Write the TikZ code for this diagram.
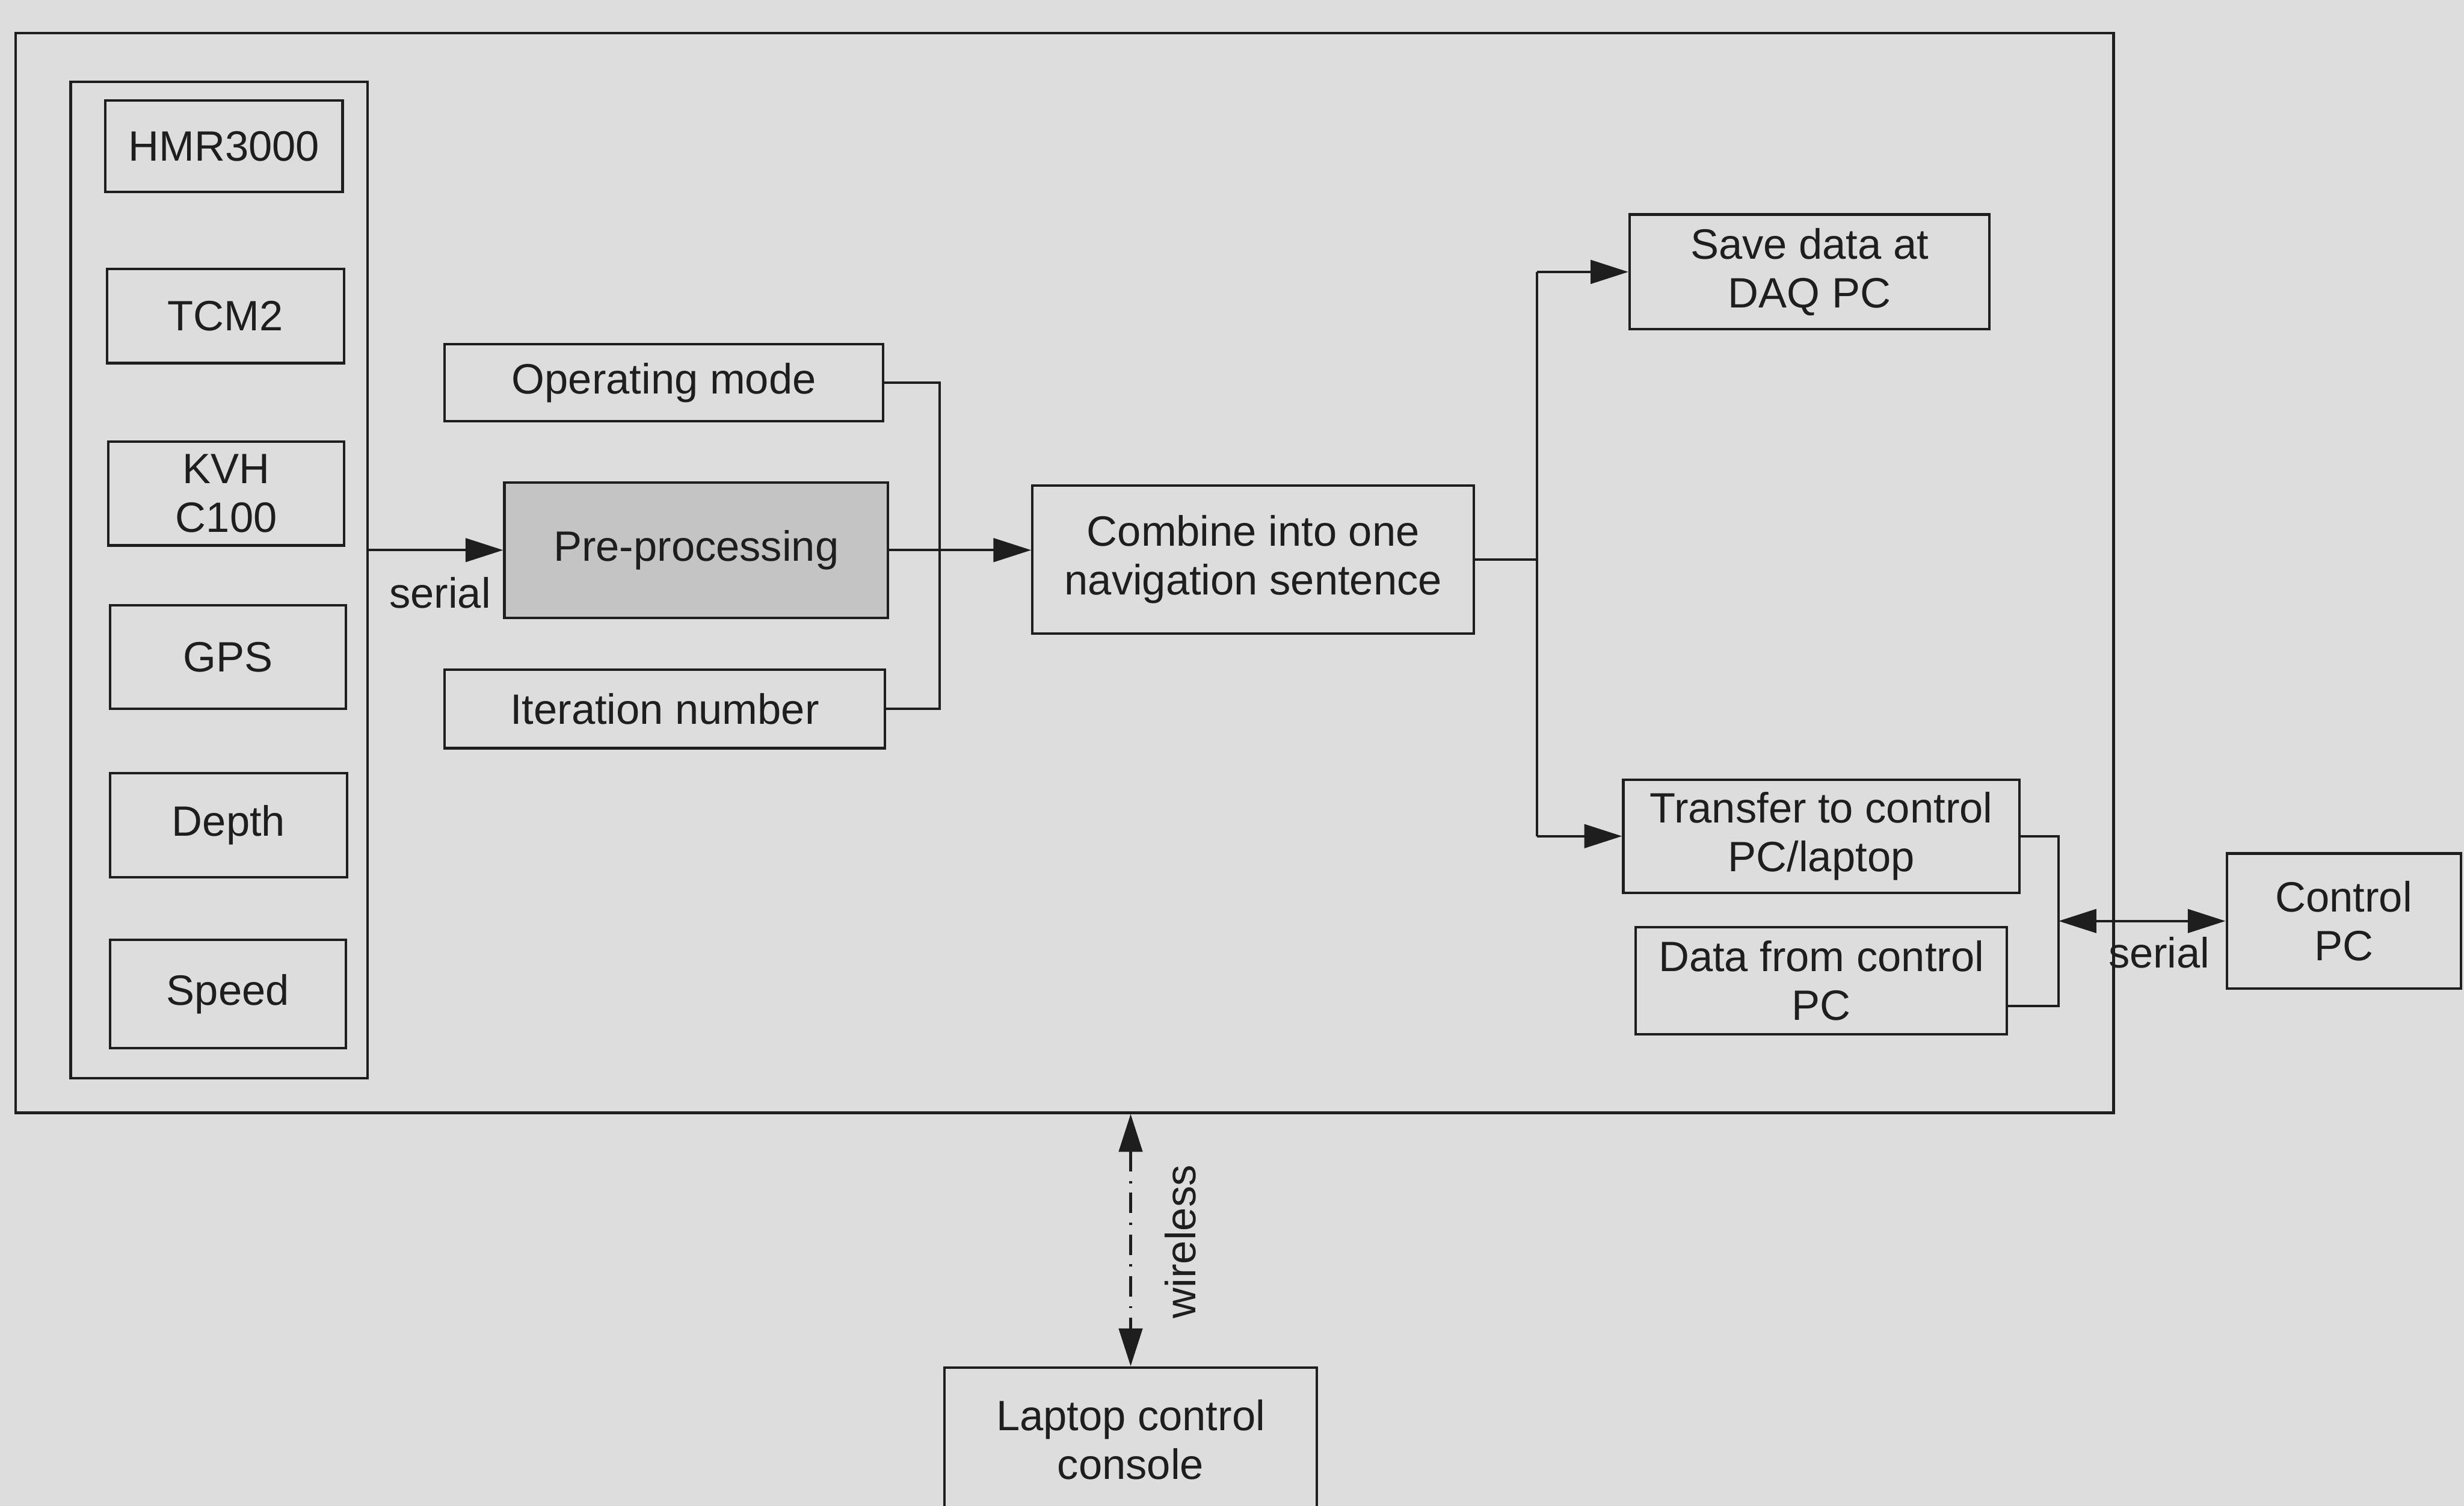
\documentclass[tikz,border=0pt]{standalone}
\usepackage{fontspec}
\setmainfont{Liberation Sans}
\usetikzlibrary{arrows.meta}
\definecolor{paper}{RGB}{221,221,221}
\definecolor{ink}{RGB}{30,30,30}
\definecolor{shade}{RGB}{196,196,196}
\begin{document}
\begin{tikzpicture}[x=1pt,y=-1pt,
  every node/.style={font=\fontsize{27}{31}\selectfont, text=ink},
  box/.style={draw=ink, line width=1.6pt, inner sep=0pt, align=center},
  wire/.style={draw=ink, line width=1.6pt},
  tip/.style={-{Triangle[length=24pt,width=15pt]}},
  twotip/.style={{Triangle[length=24pt,width=15pt]}-{Triangle[length=24pt,width=15pt]}},
  lbl/.style={inner sep=0pt}
]
% page
\fill[paper] (0,0) rectangle (1568,958);
\useasboundingbox (0,0) rectangle (1568,958);

% enclosing frames
\node[box, minimum width=1335pt, minimum height=687pt] (frame) at (677.5,364.5) {};
\node[box, minimum width=189pt, minimum height=634pt] (col) at (139.5,369) {};

% sensors
\node[box, minimum width=151pt, minimum height=58pt] (hmr) at (142.5,93) {HMR3000};
\node[box, minimum width=151pt, minimum height=60pt] (tcm) at (143.5,201) {TCM2};
\node[box, minimum width=150pt, minimum height=66pt] (kvh) at (144,314) {KVH\\C100};
\node[box, minimum width=150pt, minimum height=66pt] (gps) at (145,418) {GPS};
\node[box, minimum width=151pt, minimum height=66pt] (depth) at (145.5,525) {Depth};
\node[box, minimum width=150pt, minimum height=69pt] (speed) at (145,632.5) {Speed};

% processing
\node[box, minimum width=279pt, minimum height=49pt] (op) at (422.5,243.5) {Operating mode};
\node[box, fill=shade, minimum width=244pt, minimum height=86pt] (pre) at (443,350) {Pre-processing};
\node[box, minimum width=280pt, minimum height=50pt] (it) at (423,451) {Iteration number};
\node[box, minimum width=281pt, minimum height=94pt] (comb) at (797.5,356) {Combine into one\\navigation sentence};

% outputs
\node[box, minimum width=229pt, minimum height=73pt] (save) at (1151.5,173) {Save data at\\DAQ PC};
\node[box, minimum width=252pt, minimum height=72pt] (tr) at (1159,532) {Transfer to control\\PC/laptop};
\node[box, minimum width=236pt, minimum height=68pt] (df) at (1159,624) {Data from control\\PC};
\node[box, minimum width=149pt, minimum height=86pt] (cpc) at (1491.5,586) {Control\\PC};
\node[box, minimum width=237pt, minimum height=92pt] (lap) at (719.5,916) {Laptop control\\console};

% junction columns
\coordinate (jx) at (598,0);
\coordinate (jy) at (978,0);
\coordinate (bx) at (1310,0);

% sensors to pre-processing
\draw[wire, tip] (col.east |- pre.west) -- (pre.west);
\node[lbl] (ser1) at (280,377) {serial};

% operating mode / iteration number bracket
\draw[wire] (op.east) -- (op.east -| jx) -- (it.east -| jx) -- (it.east);
\draw[wire, tip] (pre.east) -- (pre.east -| comb.west);

% split to storage and transfer
\draw[wire] (comb.east) -- (comb.east -| jy);
\draw[wire] (save.west -| jy) -- (tr.west -| jy);
\draw[wire, tip] (save.west -| jy) -- (save.west);
\draw[wire, tip] (tr.west -| jy) -- (tr.west);

% link with control PC
\draw[wire] (tr.east) -- (tr.east -| bx) -- ([yshift=-16pt]df.east -| bx) -- ([yshift=-16pt]df.east);
\draw[wire, twotip] (cpc.west -| bx) -- (cpc.west);
\node[lbl] (ser2) at (1374,606) {serial};

% wireless link with laptop console
\draw[wire, twotip, dash pattern=on 13pt off 6pt on 1.5pt off 6pt] (lap.north |- frame.south) -- (lap.north);
\node[lbl, rotate=90] (wl) at (751,790) {wireless};
\end{tikzpicture}
\end{document}
